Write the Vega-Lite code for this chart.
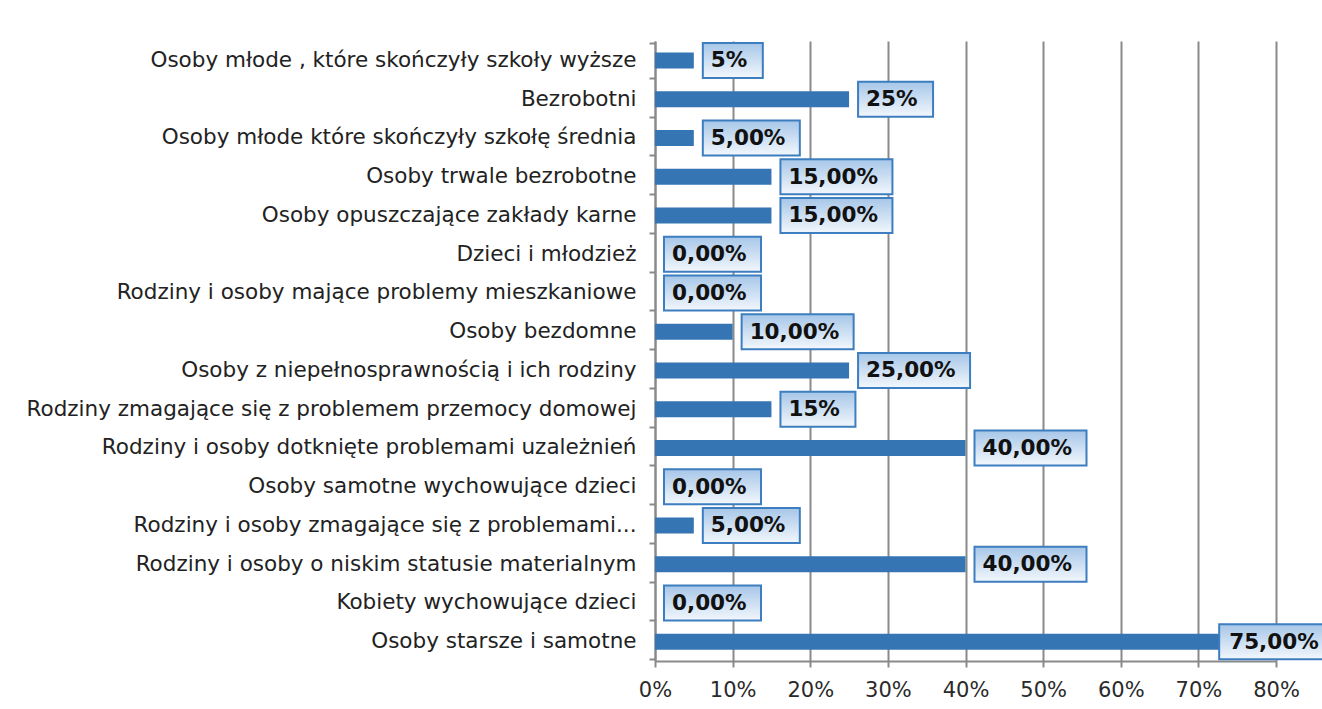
{
  "$schema": "https://vega.github.io/schema/vega-lite/v6.json",
  "autosize": "none",
  "width": 621,
  "height": 620,
  "padding": {"left": 655, "top": 41, "right": 46, "bottom": 48},
  "background": "white",
  "data": {
    "values": [
      {"cat": "Osoby młode , które skończyły szkoły wyższe", "value": 0.05, "label": "5%"},
      {"cat": "Bezrobotni", "value": 0.25, "label": "25%"},
      {"cat": "Osoby młode które skończyły szkołę średnia", "value": 0.05, "label": "5,00%"},
      {"cat": "Osoby trwale bezrobotne", "value": 0.15, "label": "15,00%"},
      {"cat": "Osoby opuszczające zakłady karne", "value": 0.15, "label": "15,00%"},
      {"cat": "Dzieci i młodzież", "value": 0, "label": "0,00%"},
      {"cat": "Rodziny i osoby mające problemy mieszkaniowe", "value": 0, "label": "0,00%"},
      {"cat": "Osoby bezdomne", "value": 0.10, "label": "10,00%"},
      {"cat": "Osoby z niepełnosprawnością i ich rodziny", "value": 0.25, "label": "25,00%"},
      {"cat": "Rodziny zmagające się z problemem przemocy domowej", "value": 0.15, "label": "15%"},
      {"cat": "Rodziny i osoby dotknięte problemami uzależnień", "value": 0.40, "label": "40,00%"},
      {"cat": "Osoby samotne wychowujące dzieci", "value": 0, "label": "0,00%"},
      {"cat": "Rodziny i osoby zmagające się z problemami...", "value": 0.05, "label": "5,00%"},
      {"cat": "Rodziny i osoby o niskim statusie materialnym", "value": 0.40, "label": "40,00%"},
      {"cat": "Kobiety wychowujące dzieci", "value": 0, "label": "0,00%"},
      {"cat": "Osoby starsze i samotne", "value": 0.75, "label": "75,00%"}
    ]
  },
  "encoding": {
    "y": {
      "field": "cat", "type": "nominal", "sort": null, "title": null,
      "axis": {
        "labelFont": "DejaVu Sans", "labelFontSize": 21.5, "labelColor": "#222222",
        "labelLimit": 700, "tickBand": "extent", "tickSize": 6, "labelPadding": 13,
        "domainColor": "#8a8a8a", "domainWidth": 2, "tickColor": "#8a8a8a", "tickWidth": 2,
        "grid": false
      }
    }
  },
  "layer": [
    {
      "mark": {"type": "bar", "color": "#3575B3", "size": 16},
      "encoding": {
        "x": {
          "field": "value", "type": "quantitative",
          "scale": {"domain": [0, 0.8], "nice": false},
          "title": null,
          "axis": {
            "format": ".0%", "values": [0, 0.1, 0.2, 0.3, 0.4, 0.5, 0.6, 0.7, 0.8],
            "labelFont": "DejaVu Sans", "labelFontSize": 21, "labelColor": "#2a2a2a",
            "labelFlush": false, "labelOverlap": false, "labelBound": false,
            "labelPadding": 12, "tickSize": 6, "tickColor": "#8a8a8a", "tickWidth": 2,
            "domainColor": "#8a8a8a", "domainWidth": 2,
            "grid": true, "gridColor": "#8a8a8a", "gridWidth": 2
          }
        }
      }
    },
    {
      "mark": {
        "type": "bar", "size": 35,
        "xOffset": {"expr": "datum.value > 0.7 ? -18 : 9"},
        "x2Offset": {"expr": "(datum.value > 0.7 ? -18 : 9)+15*length(datum.label)+30-(indexof(datum.label, ',')>=0?8:0)"},
        "fill": {"gradient": "linear", "x1": 0, "y1": 0, "x2": 0, "y2": 1,
          "stops": [{"offset": 0, "color": "#a6c6e8"}, {"offset": 1, "color": "#f2f7fc"}]},
        "stroke": "#3D7EC0", "strokeWidth": 2, "clip": false
      },
      "encoding": {
        "x": {"field": "value", "type": "quantitative"},
        "x2": {"field": "value"}
      }
    },
    {
      "mark": {"type": "text", "align": "left", "baseline": "middle",
        "dx": {"expr": "datum.value > 0.7 ? -8 : 17"}, "dy": 1,
        "font": "DejaVu Sans", "fontWeight": "bold", "fontSize": 21.5, "color": "#111111"},
      "encoding": {
        "x": {"field": "value", "type": "quantitative"},
        "text": {"field": "label"}
      }
    }
  ],
  "config": {"view": {"stroke": null}}
}
